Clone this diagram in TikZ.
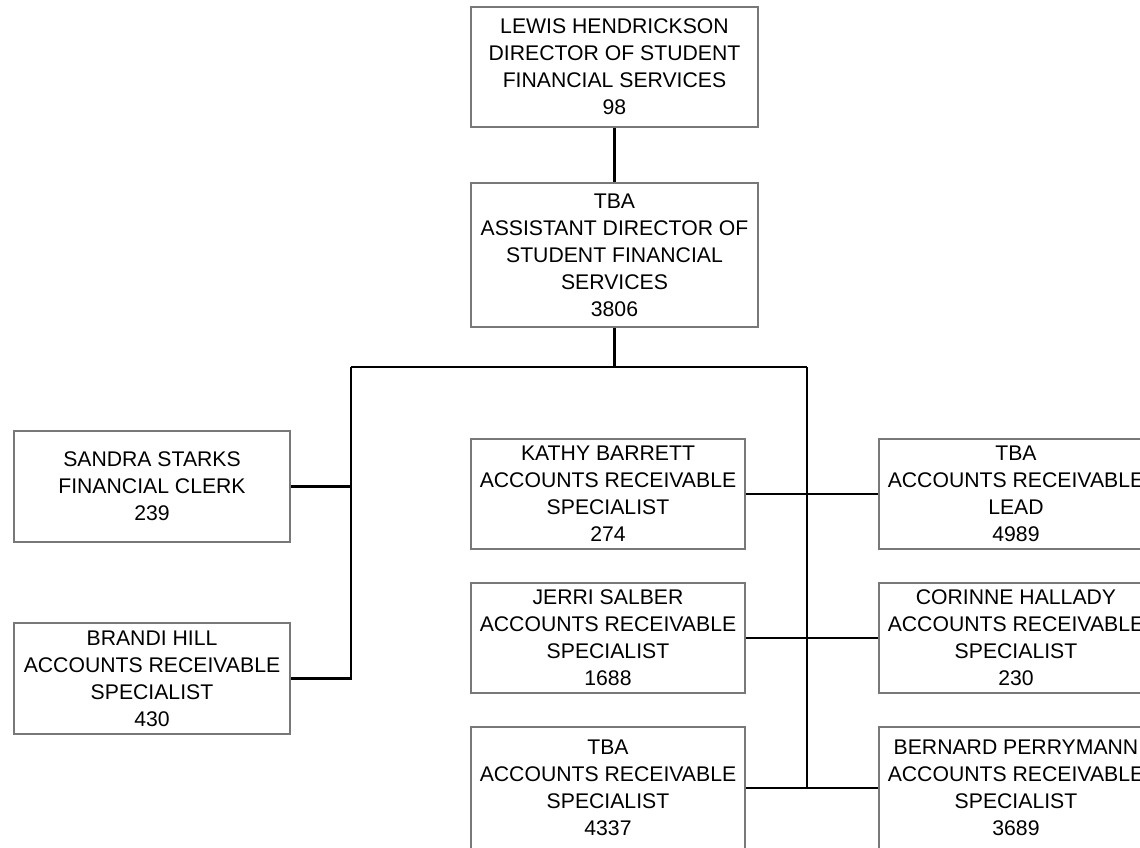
\documentclass[tikz,border=0pt]{standalone}
\usepackage{fontspec}
\setmainfont{Liberation Sans}
\tikzset{every picture/.style={line width=0.75pt}}
\tikzset{
  post/.style={draw={rgb, 255:red, 120; green, 120; blue, 120 }, line width=1pt, fill=white, inner sep=0pt, align=center, font=\fontsize{15.9}{20.2}\selectfont},
  link/.style={draw=black, line width=1.6pt}
}

\begin{document}
\begin{tikzpicture}[x=0.75pt,y=0.75pt,yscale=-1,xscale=1]
\useasboundingbox (0,0) rectangle (1140,847);

%Shape: Rectangle [director]
\node (director) at (614.5,67) [post, minimum width=215.25pt, minimum height=90pt] {LEWIS HENDRICKSON\\DIRECTOR OF STUDENT\\FINANCIAL SERVICES\\98};
%Shape: Rectangle [assistant]
\node (assistant) at (614.5,255) [post, minimum width=215.25pt, minimum height=108pt] {TBA\\ASSISTANT DIRECTOR OF\\STUDENT FINANCIAL\\SERVICES\\3806};

%Shape: Rectangle [left column]
\node (sandra) at (152,486.5) [post, minimum width=207pt, minimum height=83.25pt] {SANDRA STARKS\\FINANCIAL CLERK\\239};
\node (brandi) at (152,678.5) [post, minimum width=207pt, minimum height=83.25pt] {BRANDI HILL\\ACCOUNTS RECEIVABLE\\SPECIALIST\\430};

%Shape: Rectangle [middle column]
\node (kathy) at (608,494) [post, minimum width=205.5pt, minimum height=82.5pt] {KATHY BARRETT\\ACCOUNTS RECEIVABLE\\SPECIALIST\\274};
\node (jerri) at (608,638) [post, minimum width=205.5pt, minimum height=82.5pt] {JERRI SALBER\\ACCOUNTS RECEIVABLE\\SPECIALIST\\1688};
\node (tbaspec) at (608,788) [post, minimum width=205.5pt, minimum height=91.5pt] {TBA\\ACCOUNTS RECEIVABLE\\SPECIALIST\\4337};

%Shape: Rectangle [right column]
\node (lead) at (1016,494) [post, minimum width=205.5pt, minimum height=82.5pt] {TBA\\ACCOUNTS RECEIVABLE\\LEAD\\4989};
\node (corinne) at (1016,638) [post, minimum width=205.5pt, minimum height=82.5pt] {CORINNE HALLADY\\ACCOUNTS RECEIVABLE\\SPECIALIST\\230};
\node (bernard) at (1016,788) [post, minimum width=205.5pt, minimum height=91.5pt] {BERNARD PERRYMANN\\ACCOUNTS RECEIVABLE\\SPECIALIST\\3689};

%Straight Lines [bus]
\coordinate (busL) at (351,367);
\coordinate (busR) at (807,367);
\draw [link] (director.south) -- (assistant.north);
\draw [link] (assistant.south) -- (assistant.south |- busL);
\draw [link] (busL) -- (busR);
\draw [link] (busL) |- (brandi.east);
\draw [link] (sandra.east) -- (sandra.east -| busL);
\draw [link] (busR) -- (busR |- tbaspec.east);
\draw [link] (kathy.east) -- (lead.west);
\draw [link] (jerri.east) -- (corinne.west);
\draw [link] (tbaspec.east) -- (bernard.west);

\end{tikzpicture}
\end{document}
